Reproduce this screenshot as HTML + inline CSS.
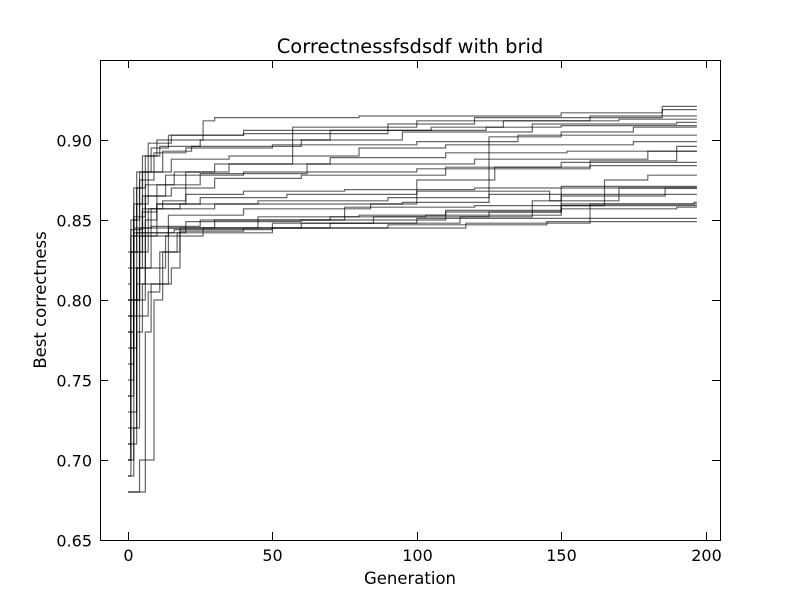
<!DOCTYPE html>
<html><head><meta charset="utf-8"><style>
body{margin:0;background:#fff;}
svg{display:block;font-family:"DejaVu Sans","Liberation Sans",sans-serif;}
</style></head><body>
<svg id="chart" width="800" height="600">
<rect x="0" y="0" width="800" height="600" fill="#fff"/>
<g id="lines"></g>
<rect x="100.5" y="60.5" width="620" height="480" fill="none" stroke="#000"/>
<g id="axes"></g>
<text x="410" y="53" text-anchor="middle" font-size="19.5">Correctnessfsdsdf with brid</text>
<text x="410" y="584" text-anchor="middle" font-size="16.5">Generation</text>
<text x="46" y="300" text-anchor="middle" font-size="16.5" transform="rotate(-90 46 300)">Best correctness</text>
</svg>
<script>
const xTicks=[0,50,100,150,200];
const yTicks=[0.65,0.70,0.75,0.80,0.85,0.90];
const yTickLabels=["0.65","0.70","0.75","0.80","0.85","0.90"];
const lastGen=197;
// each series: step breakpoints [generation, best correctness]
const s1=[[0,0.80],[1,0.84],[3,0.87],[6,0.89],[10,0.90],[26,0.912],[30,0.914],[80,0.915],[150,0.917],[185,0.921]];
const s2=[[0,0.78],[2,0.85],[4,0.88],[8,0.895],[14,0.903],[40,0.904],[90,0.910],[120,0.914],[185,0.919]];
const s3=[[0,0.74],[1,0.83],[3,0.86],[7,0.88],[12,0.893],[22,0.896],[60,0.90],[95,0.905],[140,0.910],[190,0.911]];
const s4=[[0,0.70],[2,0.80],[4,0.84],[10,0.86],[20,0.88],[35,0.885],[57,0.908],[100,0.912],[160,0.915]];
const s5=[[0,0.71],[1,0.80],[3,0.842],[16,0.844],[50,0.848],[85,0.852],[125,0.855],[150,0.865],[186,0.87]];
const s6=[[0,0.79],[2,0.842],[20,0.845],[70,0.848],[100,0.85],[110,0.855],[150,0.857],[190,0.858]];
const s7=[[0,0.68],[4,0.70],[9,0.80],[12,0.83],[18,0.845],[30,0.85],[70,0.852],[103,0.853],[150,0.86],[196,0.861]];
const s8=[[0,0.72],[3,0.81],[6,0.84],[14,0.853],[40,0.857],[84,0.86],[100,0.875],[127,0.883],[160,0.887],[190,0.896]];
const s9=[[0,0.82],[2,0.852],[6,0.865],[15,0.87],[30,0.876],[60,0.878],[110,0.883],[150,0.886]];
const s10=[[0,0.76],[2,0.83],[5,0.855],[10,0.86],[25,0.864],[55,0.866],[100,0.868],[146,0.862],[150,0.871]];
const s11=[[0,0.70],[1,0.79],[4,0.845],[20,0.849],[60,0.85],[100,0.851],[148,0.851]];
const s12=[[0,0.77],[2,0.84],[6,0.872],[16,0.88],[30,0.885],[70,0.889],[110,0.892],[152,0.893]];
const s13=[[0,0.73],[3,0.82],[6,0.85],[10,0.872],[25,0.879],[62,0.885],[120,0.888],[180,0.893]];
const s14=[[0,0.68],[3,0.68],[6,0.78],[8,0.81],[15,0.82],[18,0.843],[40,0.845],[90,0.847],[145,0.849]];
const s15=[[0,0.80],[2,0.845],[8,0.857],[30,0.86],[95,0.861],[125,0.902],[150,0.905],[175,0.908]];
const s16=[[0,0.69],[1,0.80],[3,0.82],[8,0.846],[25,0.85],[75,0.858],[120,0.859],[165,0.875],[180,0.878]];
const s17=[[0,0.79],[1,0.83],[4,0.875],[9,0.892],[20,0.895],[50,0.897],[100,0.899],[135,0.903]];
const s18=[[0,0.75],[2,0.82],[5,0.857],[12,0.862],[20,0.866],[40,0.868],[75,0.869],[120,0.87]];
const s19=[[0,0.71],[3,0.78],[5,0.81],[10,0.81],[14,0.845],[45,0.852],[80,0.853],[110,0.856],[150,0.859]];
const s20=[[0,0.78],[2,0.86],[5,0.88],[15,0.888],[35,0.89],[80,0.895],[110,0.897],[175,0.899]];
const s21=[[0,0.70],[1,0.77],[3,0.80],[6,0.82],[13,0.84],[26,0.845],[60,0.848],[115,0.852],[140,0.862],[170,0.87]];
const s22=[[0,0.80],[1,0.844],[5,0.865],[13,0.878],[40,0.88],[100,0.882],[160,0.884]];
const s23=[[0,0.74],[2,0.80],[4,0.83],[7,0.857],[18,0.86],[45,0.862],[90,0.864],[125,0.866]];
const s24=[[0,0.83],[2,0.87],[5,0.89],[11,0.896],[25,0.90],[70,0.906],[124,0.908],[150,0.909]];
const s25=[[0,0.69],[2,0.72],[4,0.79],[7,0.805],[11,0.83],[17,0.842],[50,0.845],[117,0.848],[160,0.86]];
const s26=[[0,0.81],[1,0.85],[3,0.88],[7,0.898],[15,0.903],[40,0.906],[105,0.908],[130,0.912],[170,0.913]];
const seriesList=[s1,s2,s3,s4,s5,s6,s7,s8,s9,s10,s11,s12,s13,s14,s15,s16,s17,s18,s19,s20,s21,s22,s23,s24,s25,s26];

const X0=100,X1=720,Y0=540,Y1=60,xmin=-9.7,xmax=205,ymin=0.65,ymax=0.95;
const xs=v=>X0+(v-xmin)/(xmax-xmin)*(X1-X0);
const ys=v=>Y0-(v-ymin)/(ymax-ymin)*(Y0-Y1);
const NS="http://www.w3.org/2000/svg";
const lg=document.getElementById('lines'), ax=document.getElementById('axes');
seriesList.forEach((s,i)=>{
  let d="M"+xs(s[0][0])+","+ys(s[0][1]);
  for(let k=1;k<s.length;k++){d+=" L"+xs(s[k][0])+","+ys(s[k-1][1])+" L"+xs(s[k][0])+","+ys(s[k][1]);}
  d+=" L"+xs(lastGen)+","+ys(s[s.length-1][1]);
  const p=document.createElementNS(NS,'path');
  p.setAttribute('d',d);p.setAttribute('fill','none');p.setAttribute('stroke','#000');
  p.setAttribute('stroke-opacity','0.6');p.setAttribute('stroke-width','1.2');
  
  
  lg.appendChild(p);
});
xTicks.forEach(t=>{
  const x=Math.round(xs(t))+0.5;
  const l1=document.createElementNS(NS,'path');
  l1.setAttribute('d',`M${x},540 V532 M${x},60 V68`);l1.setAttribute('stroke','#000');
  
  
  ax.appendChild(l1);
  const tx=document.createElementNS(NS,'text');
  tx.setAttribute('x',x);tx.setAttribute('y',561);tx.setAttribute('text-anchor','middle');tx.setAttribute('font-size','16');
  tx.textContent=t;
  
  
  ax.appendChild(tx);
});
yTicks.forEach((t,i)=>{
  const y=Math.round(ys(t))+0.5;
  const l1=document.createElementNS(NS,'path');
  l1.setAttribute('d',`M100,${y} H108 M720,${y} H712`);l1.setAttribute('stroke','#000');
  
  
  ax.appendChild(l1);
  const tx=document.createElementNS(NS,'text');
  tx.setAttribute('x',92);tx.setAttribute('y',y+6);tx.setAttribute('text-anchor','end');tx.setAttribute('font-size','16');
  tx.textContent=yTickLabels[i];
  
  
  ax.appendChild(tx);
});
</script>
</body></html>
